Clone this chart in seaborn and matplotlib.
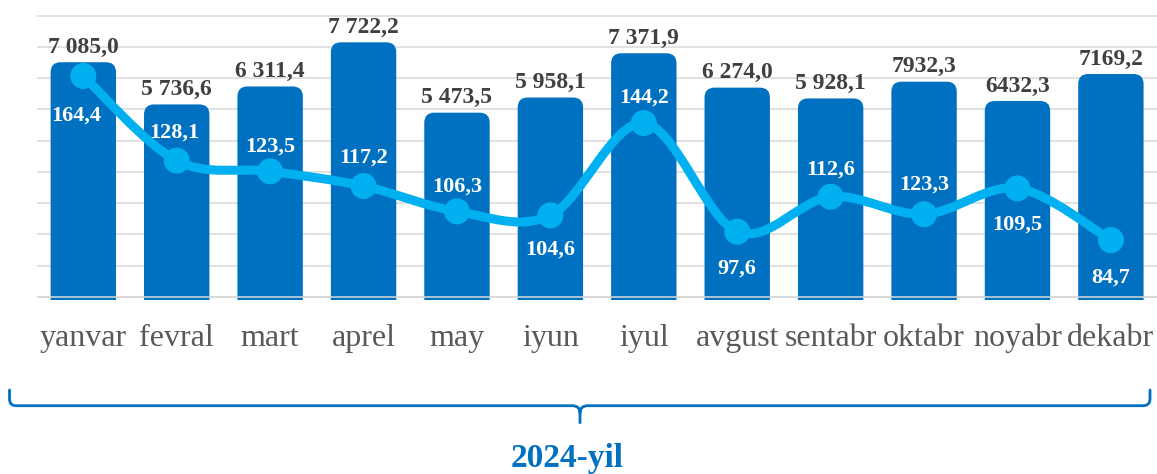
"""Monthly bars with a smoothed index line, 2024."""
import matplotlib
matplotlib.use("Agg")
import matplotlib.pyplot as plt
import numpy as np
import seaborn as sns
from matplotlib.patches import FancyBboxPatch, PathPatch
from matplotlib.path import Path

months = ["yanvar", "fevral", "mart", "aprel", "may", "iyun",
          "iyul", "avgust", "sentabr", "oktabr", "noyabr", "dekabr"]
bar_heights = [7085.0, 5736.6, 6311.4, 7722.2, 5473.5, 5958.1,
               7371.9, 6274.0, 5928.1, 6463.0, 5847.0, 6709.0]
bar_labels = ["7 085,0", "5 736,6", "6 311,4", "7 722,2", "5 473,5", "5 958,1",
              "7 371,9", "6 274,0", "5 928,1", "7932,3", "6432,3", "7169,2"]
line_values = [164.4, 128.1, 123.5, 117.2, 106.3, 104.6,
               144.2, 97.6, 112.6, 105.1, 116.2, 94.0]
line_labels = ["164,4", "128,1", "123,5", "117,2", "106,3", "104,6",
               "144,2", "97,6", "112,6", "123,3", "109,5", "84,7"]
year_label = "2024-yil"

BAR_BLUE = "#0070C0"
LINE_BLUE = "#00B0F0"
GRID = "#D9D9D9"
W, H = 1157, 474
PX = 0.72  # points per pixel at 100 dpi

# label offsets (px) from the marker: dx, and baseline dy (positive = above)
line_label_dx = [-7, -2, 0, 0, 0, 0, 0, 0, 0, 0, 0, 0]
line_label_dy = [-44.7, 23, 20, 23, 20, -39.7, 20, -41.7, 22, 25, -41, -42.7]

sns.set_style("white")
plt.rcParams["font.family"] = ["Liberation Serif", "DejaVu Serif"]

fig = plt.figure(figsize=(W / 100, H / 100), dpi=100)
ax = fig.add_axes([36.6 / W, (H - 300) / H, 1121 / W, 300 / H])

sns.barplot(x=months, y=bar_heights, color=BAR_BLUE, saturation=1, width=0.7, ax=ax, zorder=2)

# swap the plain rectangles for bars with rounded tops
r_x = 10 / 93.4
aspect = (10 / 0.0313) / r_x
for p in list(ax.patches):
    x, w, h = p.get_x(), p.get_width(), p.get_height()
    p.remove()
    ax.add_patch(FancyBboxPatch((x, -1500), w, h + 1500,
                                boxstyle=f"round,pad=0,rounding_size={r_x}",
                                mutation_aspect=aspect, fc=BAR_BLUE, ec="none", zorder=2))

ax.set_xlim(-0.5, 11.5)
ax.set_ylim(-511.2, 9073.5)
grid_ticks = np.arange(10) * 997 - 406
ax.set_yticks(grid_ticks)
ax.set_yticklabels([])
ax.yaxis.grid(True, color=GRID, lw=1.1)
ax.set_axisbelow(True)
ax.axhline(grid_ticks[0], color=GRID, lw=1.1, zorder=3)
ax.set_xlabel("")
ax.set_ylabel("")
sns.despine(ax=ax, left=True, bottom=True)
ax.tick_params(axis="y", which="both", length=0, width=0, left=False, right=False,
               labelleft=False, labelright=False)
ax.tick_params(axis="x", length=0, pad=46 * PX, labelsize=23, labelcolor="#595959")
for lbl in ax.get_xticklabels():
    lbl.set_verticalalignment("baseline")

for i, (h, txt) in enumerate(zip(bar_heights, bar_labels)):
    ax.annotate(txt, (i, h), xytext=(0, 9.5 * PX), textcoords="offset points",
                ha="center", va="baseline", fontsize=17, fontweight="bold",
                color="#404040", annotation_clip=False)

# index line on a second scale
ax2 = ax.twinx()
ax2.set_ylim(68.3, 197.0)
xs = np.arange(len(line_values))
pts = np.column_stack([xs, line_values])
ext = np.vstack([pts[0], pts, pts[-1]])
verts, codes = [pts[0]], [Path.MOVETO]
for i in range(len(pts) - 1):
    p0, p1, p2, p3 = ext[i], ext[i + 1], ext[i + 2], ext[i + 3]
    verts += [p1 + (p2 - p0) / 6, p2 - (p3 - p1) / 6, p2]
    codes += [Path.CURVE4] * 3
ax2.add_patch(PathPatch(Path(verts, codes), fc="none", ec=LINE_BLUE, lw=6.5,
                        capstyle="round", joinstyle="round", zorder=3))
sns.scatterplot(x=xs, y=line_values, s=350, color=LINE_BLUE, edgecolor="none", ax=ax2, zorder=4)
for i, (v, txt) in enumerate(zip(line_values, line_labels)):
    ax2.annotate(txt, (i, v), xytext=(line_label_dx[i] * PX, line_label_dy[i] * PX),
                 textcoords="offset points", ha="center", va="baseline",
                 fontsize=16, fontweight="bold", color="white", zorder=5)
ax2.set_xlim(-0.5, 11.5)
ax2.set_ylabel("")
ax2.set_yticks([])
sns.despine(ax=ax2, left=True, bottom=True, right=True)
ax2.tick_params(axis="both", which="both", length=0, left=False, right=False,
                labelleft=False, labelright=False)

# bracket under the month names
def fy(y):
    return (H - y) / H

bx = [9.5, 580, 1150]
by = 405.7
brace = [((bx[0], 390), Path.MOVETO), ((bx[0], 399), Path.LINETO),
         ((bx[0], by), Path.CURVE3), ((16, by), Path.CURVE3),
         ((572, by), Path.LINETO), ((bx[1], by), Path.CURVE3), ((bx[1], 413), Path.CURVE3),
         ((bx[1], 422.7), Path.LINETO),
         ((bx[1], 413), Path.MOVETO), ((bx[1], by), Path.CURVE3), ((588, by), Path.CURVE3),
         ((1143, by), Path.LINETO), ((bx[2], by), Path.CURVE3), ((bx[2], 399), Path.CURVE3),
         ((bx[2], 390), Path.LINETO)]
bverts = [(x / W, fy(y)) for (x, y), _ in brace]
bcodes = [c for _, c in brace]
fig.patches.append(PathPatch(Path(bverts, bcodes), fc="none", ec=BAR_BLUE, lw=2.0,
                             transform=fig.transFigure, capstyle="round"))

fig.text(567.5 / W, fy(467.5), year_label, ha="center", va="baseline",
         fontsize=24, fontweight="bold", color=BAR_BLUE)

fig.savefig("out.png", dpi=100)
